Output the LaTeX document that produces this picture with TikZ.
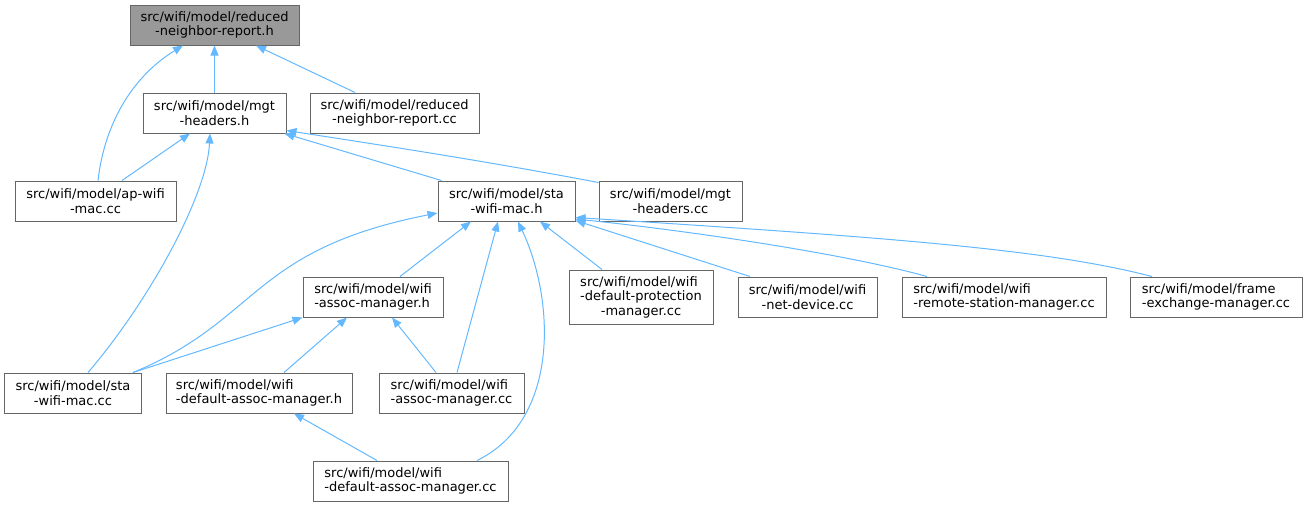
\documentclass[tikz,border=0pt]{standalone}
\usepackage{fontspec}
\setmainfont{DejaVu Sans}
\usepackage{calc}
\usetikzlibrary{arrows.meta}
\definecolor{edgeblue}{HTML}{63B8FF}
\definecolor{boxline}{HTML}{666666}
\definecolor{rootfill}{HTML}{999999}
\begin{document}
\begin{tikzpicture}[x=1pt,y=-1pt,
  box/.style={draw=boxline, line width=1pt, fill=white, inner sep=0pt,
    minimum height=40pt, font=\fontsize{13}{14.5}\selectfont},
  cbox/.style={box, align=center},
  lbox/.style={box, align=left},
  dep/.style={draw=edgeblue, line width=1pt, -{Triangle[length=10pt,width=8pt]}}
]
\useasboundingbox (0,0) rectangle (1307,507);
% nodes
\node[cbox, fill=rootfill, minimum width=169pt] (root) at (214.5,25) {src/wifi/model/reduced\\-neighbor-report.h};
\node[cbox, minimum width=143pt] (mgth) at (214.5,113) {src/wifi/model/mgt\\-headers.h};
\node[cbox, minimum width=169pt] (rnrcc) at (394.5,113) {src/wifi/model/reduced\\-neighbor-report.cc};
\node[cbox, minimum width=161pt] (apcc) at (95.5,201) {src/wifi/model/ap-wifi\\-mac.cc};
\node[cbox, minimum width=137pt] (stah) at (506.5,201) {src/wifi/model/sta\\-wifi-mac.h};
\node[cbox, minimum width=143pt] (mgtcc) at (670.5,201) {src/wifi/model/mgt\\-headers.cc};
\node[lbox, minimum width=144pt, minimum height=54pt] (dpm) at (641,297) {src/wifi/model/wifi\\-default-protection\\\makebox[\widthof{-default-protection}][c]{-manager.cc}};
\node[cbox, minimum width=139pt] (netdev) at (807.5,297) {src/wifi/model/wifi\\-net-device.cc};
\node[lbox, minimum width=204pt] (rsm) at (1004,297) {src/wifi/model/wifi\\-remote-station-manager.cc};
\node[lbox, minimum width=172pt] (fem) at (1216,297) {src/wifi/model/frame\\-exchange-manager.cc};
\node[lbox, minimum width=140pt] (amh) at (373,297) {src/wifi/model/wifi\\-assoc-manager.h};
\node[cbox, minimum width=137pt] (stacc) at (73,393) {src/wifi/model/sta\\-wifi-mac.cc};
\node[lbox, minimum width=186pt] (damh) at (259,393) {src/wifi/model/wifi\\-default-assoc-manager.h};
\node[lbox, minimum width=145pt] (amcc) at (451.5,393) {src/wifi/model/wifi\\-assoc-manager.cc};
\node[lbox, minimum width=195pt] (damcc) at (410.5,481) {src/wifi/model/wifi\\-default-assoc-manager.cc};
% edges
\draw[dep] ([xshift=2.5pt]apcc.north) .. controls (105,120) and (135,75) .. ([xshift=-31.5pt]root.south);
\draw[dep] (mgth.north) -- (root.south);
\draw[dep] ([xshift=-39.5pt]rnrcc.north) -- ([xshift=41.5pt]root.south);
\draw[dep] ([xshift=26.5pt]apcc.north) -- ([xshift=-24.5pt]mgth.south);
\draw[dep] ([xshift=15pt]stacc.north) .. controls (150,300) and (207,195) .. ([xshift=-4.5pt]mgth.south);
\draw[dep] ([xshift=4pt]stah.north west) -- ([xshift=-2pt]mgth.south east);
\draw[dep] ([yshift=-2pt]mgtcc.north west) .. controls (480,160) and (380,145) .. ([yshift=3pt]mgth.south east);
\draw[dep] ([xshift=60pt]stacc.north) .. controls (260,320) and (250,250) .. ([yshift=-12pt]stah.west);
\draw[dep] ([xshift=27pt]amh.north) -- ([xshift=-35.5pt]stah.south);
\draw[dep] ([xshift=5.5pt]amcc.north) -- ([xshift=-8.5pt]stah.south);
\draw[dep] ([xshift=66.5pt]damcc.north) .. controls (560,420) and (555,300) .. ([xshift=11.5pt]stah.south);
\draw[dep] ([xshift=-39pt]dpm.north) -- ([xshift=33.5pt]stah.south);
\draw[dep] ([xshift=-57.5pt]netdev.north) -- ([yshift=1pt]stah.south east);
\draw[dep] ([xshift=-77pt]rsm.north) .. controls (850,255) and (700,232) .. ([yshift=2.5pt]stah.south east);
\draw[dep] ([xshift=-64pt]fem.north) .. controls (1050,250) and (900,238) .. ([yshift=4pt]stah.south east);
\draw[dep] ([xshift=60pt]stacc.north) -- (amh.south west);
\draw[dep] ([xshift=25pt]damh.north) -- ([xshift=-26pt]amh.south);
\draw[dep] ([xshift=-15.5pt]amcc.north) -- ([xshift=19pt]amh.south);
\draw[dep] ([xshift=-33.5pt]damcc.north) -- ([xshift=35pt]damh.south);
\end{tikzpicture}
\end{document}
